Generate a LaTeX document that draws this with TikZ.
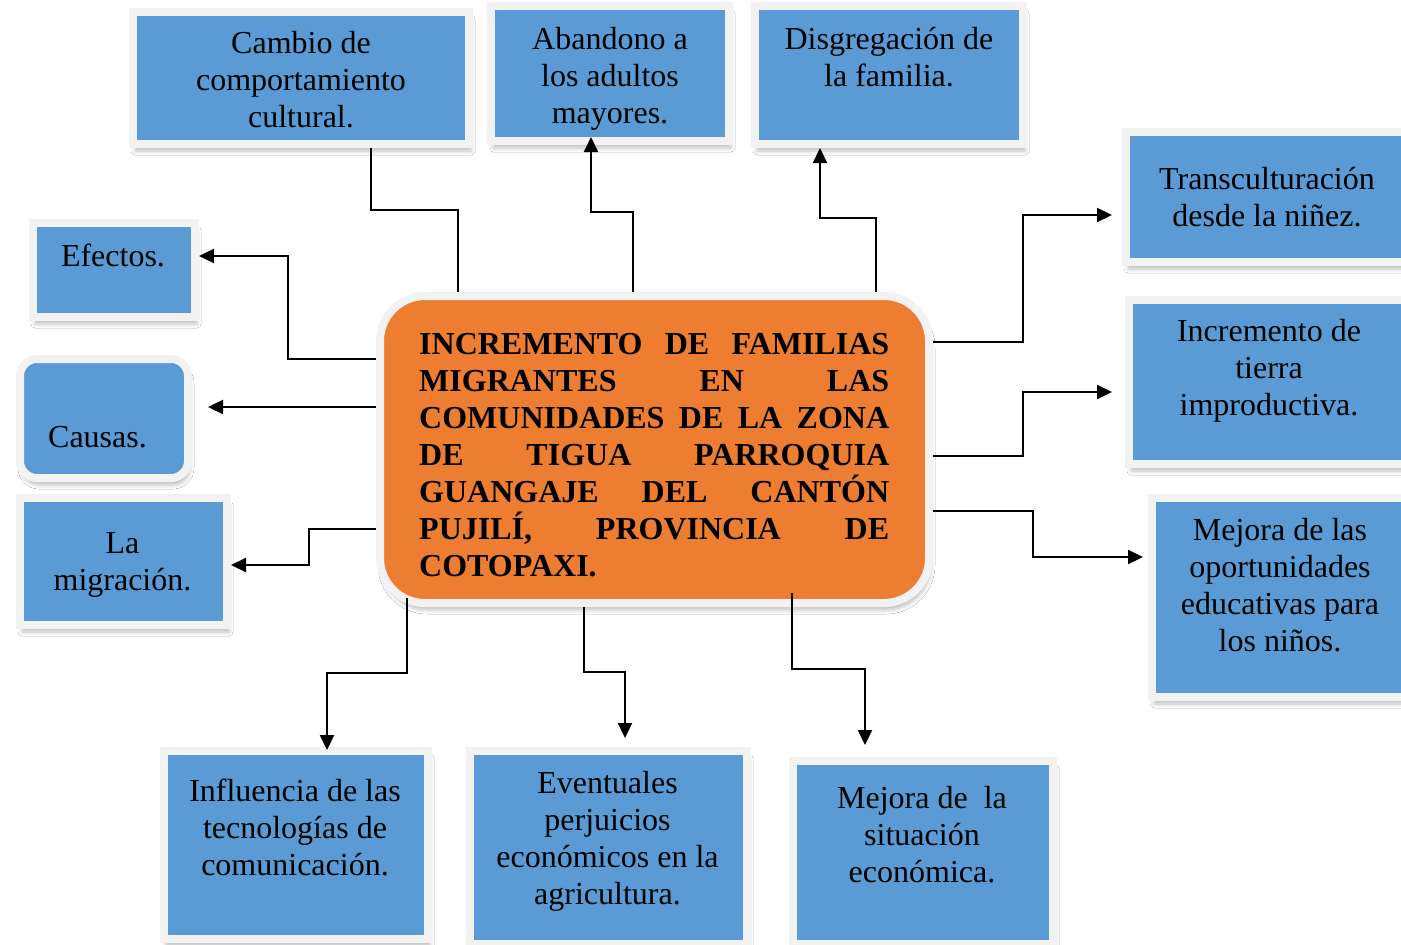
\documentclass[tikz,border=0pt]{standalone}
\usepackage{fontspec}
\setmainfont{Liberation Serif}
\usetikzlibrary{arrows.meta,calc,shadows.blur}
\definecolor{boxblue}{HTML}{5B9BD5}
\definecolor{framegray}{HTML}{F2F2F2}
\definecolor{mainorange}{HTML}{ED7D31}
\newcommand{\tightlines}{\lineskiplimit=-50pt\relax\lineskip=0pt\relax}
\tikzset{
  bluebox/.style={draw=framegray, line width=8pt, fill=boxblue, inner sep=0pt,
    blur shadow={shadow xshift=2pt, shadow yshift=-7pt, shadow blur radius=4pt, shadow opacity=25}},
  txt/.style={font=\fontsize{32}{37}\selectfont\tightlines, align=center, inner sep=0pt, anchor=north, text=black},
  conn/.style={draw=black, line width=2.2pt},
  arr/.style={conn, -{Triangle[length=15pt,width=14pt]}}
}
\begin{document}
\begin{tikzpicture}[x=1pt,y=-1pt]
\useasboundingbox (0,0) rectangle (1401,945);
\clip (0,0) rectangle (1401,945);
\fill[white] (0,0) rectangle (1401,945);

% boxes
\node[bluebox, minimum width=336pt, minimum height=132pt] (cambio) at (301,78) {};
\node[bluebox, minimum width=238pt, minimum height=135pt] (abandono) at (610,73.5) {};
\node[bluebox, minimum width=268pt, minimum height=138pt] (disgreg) at (889,75) {};
\node[bluebox, minimum width=298pt, minimum height=130pt] (transc) at (1275,197) {};
\node[bluebox, minimum width=295pt, minimum height=164pt] (tierra) at (1276.5,382) {};
\node[bluebox, minimum width=272pt, minimum height=199pt] (oport) at (1288,597.5) {};
\node[bluebox, minimum width=162pt, minimum height=94pt] (efectos) at (114,270) {};
\node[bluebox, rounded corners=17pt, minimum width=168pt, minimum height=119pt] (causas) at (104,418.5) {};
\node[bluebox, minimum width=207pt, minimum height=127pt] (migracion) at (123.5,561.5) {};
\node[bluebox, minimum width=264pt, minimum height=188pt] (influencia) at (296,845) {};
\node[bluebox, minimum width=277pt, minimum height=193pt] (eventuales) at (608.5,847.5) {};
\node[bluebox, minimum width=260pt, minimum height=183pt] (situacion) at (923,852.5) {};
\node[bluebox, fill=mainorange, rounded corners=45pt, minimum width=549pt, minimum height=307pt] (main) at (654.5,449.5) {};

% texts
\node[txt] (tcambio) at (301,27.1) {Cambio de\strut\\comportamiento\strut\\cultural.\strut};
\node[txt] (tabandono) at (610,23.1) {Abandono a\strut\\los adultos\strut\\mayores.\strut};
\node[txt] (tdisgreg) at (889,23.1) {Disgregación de\strut\\la familia.\strut};
\node[txt] (ttransc) at (1267,163.1) {Transculturación\strut\\desde la niñez.\strut};
\node[txt] (ttierra) at (1269,315.1) {Incremento de\strut\\tierra\strut\\improductiva.\strut};
\node[txt] (toport) at (1280,514.1) {Mejora de las\strut\\oportunidades\strut\\educativas para\strut\\los niños.\strut};
\node[txt] (tefectos) at (113,240.1) {Efectos.\strut};
\node[txt] (tcausas) at (97.5,421.1) {Causas.\strut};
\node[txt] (tmigracion) at (122.5,527.1) {La\strut\\migración.\strut};
\node[txt] (tinfluencia) at (295,775.1) {Influencia de las\strut\\tecnologías de\strut\\comunicación.\strut};
\node[txt] (teventuales) at (607.5,767.1) {Eventuales\strut\\perjuicios\strut\\económicos en la\strut\\agricultura.\strut};
\node[txt] (tsituacion) at (922,782.1) {Mejora de~ la\strut\\situación\strut\\económica.\strut};
\node[txt, anchor=north west, align=left, font=\fontsize{32}{37}\selectfont\bfseries\tightlines] (tmain) at (419,328.1)
  {\makebox[470pt][s]{INCREMENTO DE FAMILIAS\strut}\\
   \makebox[470pt][s]{MIGRANTES EN LAS\strut}\\
   \makebox[470pt][s]{COMUNIDADES DE LA ZONA\strut}\\
   \makebox[470pt][s]{DE TIGUA PARROQUIA\strut}\\
   \makebox[470pt][s]{GUANGAJE DEL CANTÓN\strut}\\
   \makebox[470pt][s]{PUJILÍ, PROVINCIA DE\strut}\\
   COTOPAXI.\strut};

% connectors
\draw[conn] (main.north -| 458,0) |- (371,210) -- (cambio.south -| 371,0);
\draw[arr] (main.north -| 633,0) |- (591,212) -- ($(abandono.south -| 591,0)+(0,-8)$);
\draw[arr] (main.north -| 876,0) |- (820,218) -- (disgreg.south -| 820,0);
\draw[arr] (main.east |- 0,342) -| (1023,215) -- ($(transc.west |- 0,215)+(-10,0)$);
\draw[arr] (main.east |- 0,456) -| (1023,392) -- ($(tierra.west |- 0,392)+(-13,0)$);
\draw[arr] (main.east |- 0,511) -| (1033,557) -- ($(oport.west |- 0,557)+(-5,0)$);
\draw[arr] ($(main.south -| 792,0)+(0,-14)$) |- (865,669) -- ($(situacion.north -| 865,0)+(0,-12)$);
\draw[arr] (main.south -| 584,0) |- (625,672) -- ($(eventuales.north -| 625,0)+(0,-9)$);
\draw[arr] ($(main.south -| 407,0)+(0,-9)$) |- (327,673) -- ($(influencia.north -| 327,0)+(0,3)$);
\draw[arr] (main.west |- 0,529) -| (309,565) -- (migracion.east |- 0,565);
\draw[arr] (main.west |- 0,407) -- ($(causas.east |- 0,407)+(16,0)$);
\draw[arr] (main.west |- 0,359) -| (288,256) -- (efectos.east |- 0,256);
\end{tikzpicture}
\end{document}
